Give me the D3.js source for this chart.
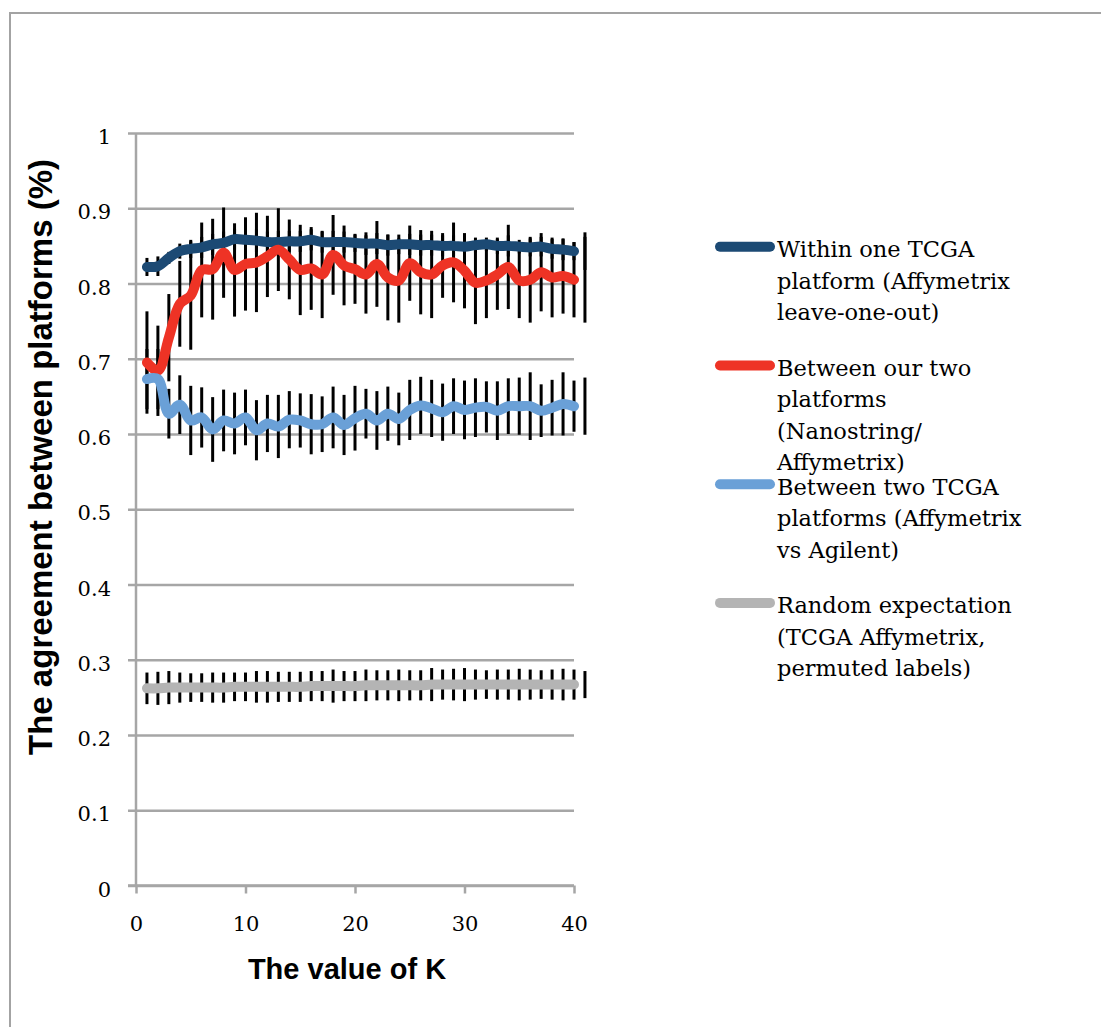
<!DOCTYPE html>
<html>
<head>
<meta charset="utf-8">
<script src="https://cdn.jsdelivr.net/npm/d3@7"></script>
<style>
  html, body { margin: 0; padding: 0; background: #fff; }
  svg { display: block; }
</style>
</head>
<body>
<svg id="chart" width="1101" height="1027"></svg>
<script>
// ---------- DATA ----------
const kValues = [1,2,3,4,5,6,7,8,9,10,11,12,13,14,15,16,17,18,19,20,21,22,23,24,25,26,27,28,29,30,31,32,33,34,35,36,37,38,39,40];
const errK = [1,2,3,4,5,6,7,8,9,10,11,12,13,14,15,16,17,18,19,20,21,22,23,24,25,26,27,28,29,30,31,32,33,34,35,36,37,38,39,40,41];

const withinTCGA = [0.822,0.823,0.834,0.843,0.846,0.848,0.852,0.854,0.859,0.858,0.857,0.855,0.855,0.856,0.856,0.858,0.855,0.855,0.855,0.854,0.853,0.853,0.851,0.852,0.852,0.851,0.851,0.850,0.850,0.849,0.851,0.852,0.850,0.850,0.849,0.848,0.849,0.846,0.845,0.843];
const withinTCGAErr = [0.012,0.013,0.008,0.010,0.012,0.014,0.014,0.015,0.014,0.014,0.015,0.014,0.015,0.014,0.014,0.014,0.014,0.015,0.014,0.012,0.015,0.014,0.014,0.013,0.014,0.014,0.014,0.014,0.014,0.014,0.010,0.009,0.011,0.014,0.009,0.012,0.013,0.013,0.014,0.012,0.025];

const ourPlatforms = [0.695,0.684,0.728,0.773,0.784,0.818,0.819,0.841,0.818,0.826,0.828,0.836,0.845,0.832,0.818,0.820,0.812,0.838,0.824,0.819,0.812,0.826,0.808,0.804,0.827,0.815,0.812,0.824,0.828,0.817,0.801,0.804,0.812,0.822,0.804,0.805,0.815,0.808,0.810,0.805];
const ourPlatformsErr = [0.068,0.060,0.058,0.057,0.072,0.063,0.067,0.060,0.062,0.062,0.066,0.054,0.055,0.053,0.060,0.055,0.058,0.053,0.053,0.046,0.052,0.057,0.057,0.056,0.050,0.056,0.058,0.043,0.053,0.050,0.055,0.050,0.047,0.056,0.050,0.057,0.052,0.053,0.050,0.050,0.057];

const twoTCGA = [0.673,0.673,0.627,0.639,0.618,0.622,0.606,0.618,0.614,0.622,0.605,0.614,0.610,0.619,0.618,0.613,0.613,0.622,0.612,0.621,0.627,0.618,0.627,0.620,0.632,0.638,0.634,0.629,0.637,0.632,0.635,0.636,0.631,0.637,0.637,0.637,0.631,0.635,0.640,0.637];
const twoTCGAErr = [0.040,0.040,0.033,0.039,0.046,0.040,0.043,0.041,0.041,0.037,0.040,0.038,0.042,0.038,0.036,0.040,0.037,0.041,0.040,0.043,0.033,0.039,0.036,0.035,0.040,0.038,0.038,0.038,0.037,0.039,0.039,0.034,0.039,0.037,0.038,0.045,0.035,0.037,0.042,0.034,0.038];

const randomExp = [0.262,0.262,0.263,0.263,0.263,0.263,0.263,0.263,0.264,0.264,0.264,0.264,0.264,0.264,0.264,0.265,0.265,0.265,0.265,0.265,0.266,0.266,0.266,0.266,0.266,0.266,0.267,0.267,0.267,0.267,0.267,0.267,0.267,0.267,0.267,0.267,0.267,0.267,0.267,0.267];
const randomExpErr = [0.021,0.022,0.022,0.020,0.019,0.019,0.020,0.020,0.019,0.019,0.021,0.021,0.020,0.020,0.020,0.020,0.020,0.022,0.020,0.020,0.021,0.020,0.020,0.021,0.020,0.020,0.022,0.020,0.021,0.022,0.020,0.019,0.020,0.020,0.021,0.020,0.019,0.020,0.021,0.020,0.018];

const seriesNames = [
  ["Within one TCGA", "platform (Affymetrix", "leave-one-out)"],
  ["Between our two", "platforms", "(Nanostring/", "Affymetrix)"],
  ["Between two TCGA", "platforms (Affymetrix", "vs Agilent)"],
  ["Random expectation", "(TCGA Affymetrix,", "permuted labels)"]
];
const seriesColors = ["#1c4a74", "#ee3325", "#6aa0d7", "#b4b4b4"];
const xTicks = [0, 10, 20, 30, 40];
const yTicks = [0, 0.1, 0.2, 0.3, 0.4, 0.5, 0.6, 0.7, 0.8, 0.9, 1];
const xTitle = "The value of K";
const yTitle = "The agreement between platforms (%)";

const seriesValues = [withinTCGA, ourPlatforms, twoTCGA, randomExp];
const seriesErrors = [withinTCGAErr, ourPlatformsErr, twoTCGAErr, randomExpErr];

// ---------- DRAW ----------
const svg = d3.select("#chart");
const x = d3.scaleLinear().domain([0, 40]).range([136, 574]);
const y = d3.scaleLinear().domain([0, 1]).range([885.5, 133]);
const gridColor = "#a6a6a6";
const serif = "'DejaVu Serif', serif";
const sans = "'Liberation Sans', Arial, sans-serif";

// outer frame
svg.append("rect")
  .attr("x", 10).attr("y", 13)
  .attr("width", 1200).attr("height", 1200)
  .attr("fill", "none").attr("stroke", "#a3a3a3").attr("stroke-width", 2);

// horizontal gridlines (with left tick marks) via y axis
const yAxis = d3.axisLeft(y).tickValues(yTicks)
  .tickSize(-(574 - 128) ).tickFormat(d3.format("~g")).tickPadding(0);
const gy = svg.append("g").attr("transform", "translate(128,0)").call(yAxis);
gy.select(".domain").remove();
gy.selectAll(".tick line").attr("stroke", gridColor).attr("stroke-width", 2.5);
gy.selectAll(".tick text")
  .attr("x", -17).attr("dy", "0.5em")
  .attr("font-family", serif).attr("font-size", 21).attr("fill", "#000")
  .attr("text-anchor", "end");

// y axis line
svg.append("line").attr("x1", 136).attr("x2", 136).attr("y1", 133).attr("y2", 886)
  .attr("stroke", gridColor).attr("stroke-width", 2.5);

// x axis
const xAxis = d3.axisBottom(x).tickValues(xTicks).tickSize(8).tickPadding(0).tickFormat(d3.format("d"));
const gx = svg.append("g").attr("transform", `translate(0,${y(0)})`).call(xAxis);
gx.select(".domain").remove();
gx.selectAll(".tick line").attr("stroke", gridColor).attr("stroke-width", 2.5);
gx.selectAll(".tick text")
  .attr("y", 45).attr("dy", 0)
  .attr("font-family", serif).attr("font-size", 21).attr("fill", "#000");
svg.append("line").attr("x1", 128).attr("x2", 574).attr("y1", y(0)).attr("y2", y(0))
  .attr("stroke", gridColor).attr("stroke-width", 2.5);

// error bars (under lines)
const gErr = svg.append("g");
seriesValues.forEach((vals, s) => {
  const errs = seriesErrors[s];
  gErr.selectAll(null).data(errK).enter().append("line")
    .attr("x1", d => x(d)).attr("x2", d => x(d))
    .attr("y1", (d, i) => y(vals[Math.min(i, vals.length - 1)] + errs[i]))
    .attr("y2", (d, i) => y(vals[Math.min(i, vals.length - 1)] - errs[i]))
    .attr("stroke", "#000").attr("stroke-width", 3);
});

// lines
const line = d3.line().x((d, i) => x(kValues[i])).y(d => y(d)).curve(d3.curveCatmullRom.alpha(0.5));
seriesValues.forEach((vals, s) => {
  svg.append("path").datum(vals)
    .attr("d", line)
    .attr("fill", "none")
    .attr("stroke", seriesColors[s])
    .attr("stroke-width", 10)
    .attr("stroke-linejoin", "round")
    .attr("stroke-linecap", "round");
});

// axis titles
svg.append("text").text(xTitle)
  .attr("x", 347).attr("y", 979)
  .attr("text-anchor", "middle")
  .attr("font-family", sans).attr("font-weight", "bold").attr("font-size", 29);
svg.append("text").text(yTitle)
  .attr("transform", "translate(52,457) rotate(-90)")
  .attr("text-anchor", "middle")
  .attr("font-family", sans).attr("font-weight", "bold").attr("font-size", 33);

// legend
const legend = svg.append("g");
seriesNames.forEach((lines, s) => {
  const base = 257.3 + s * 118.7;
  legend.append("line")
    .attr("x1", 720).attr("x2", 770)
    .attr("y1", base - 10.5).attr("y2", base - 10.5)
    .attr("stroke", seriesColors[s]).attr("stroke-width", 10)
    .attr("stroke-linecap", "round");
  lines.forEach((t, j) => {
    legend.append("text").text(t)
      .attr("x", 777).attr("y", base + j * 31.4)
      .attr("font-family", serif).attr("font-size", 22.5).attr("fill", "#000");
  });
});
</script>
</body>
</html>
